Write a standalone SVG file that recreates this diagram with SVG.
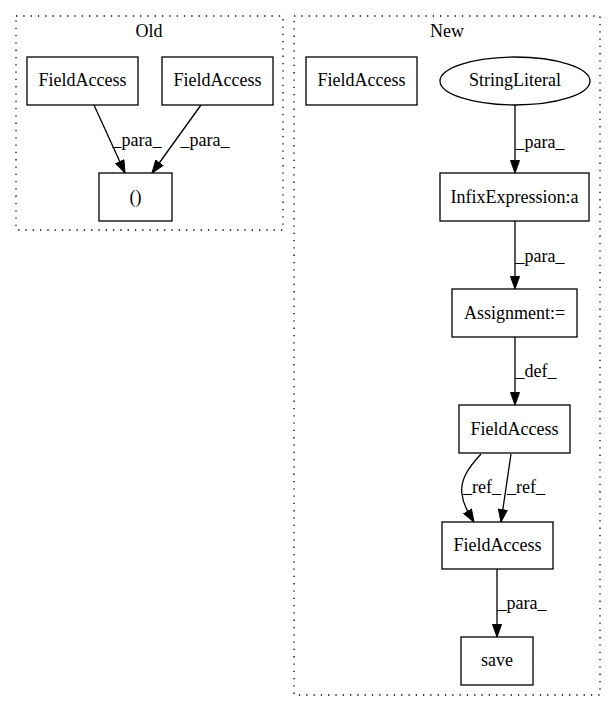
<svg xmlns="http://www.w3.org/2000/svg" width="616" height="712" viewBox="0 0 616 712">
<style>
text{font-family:"Liberation Serif","Times New Roman",serif;font-size:18px;fill:#000}
.n{fill:#fff;stroke:#000;stroke-width:1.3}
.c{fill:none;stroke:#000;stroke-width:1.3;stroke-dasharray:1.3,6}
.e{fill:none;stroke:#000;stroke-width:1.3;marker-end:url(#ah)}
</style>
<defs>
<marker id="ah" markerWidth="14" markerHeight="10" refX="13" refY="5" orient="auto" markerUnits="userSpaceOnUse">
<path d="M0.5,0.5 L13,5 L0.5,9.5 z" fill="#000" stroke="#000"/>
</marker>
</defs>
<rect width="616" height="712" fill="#fff"/>
<g id="cluster_old">
<rect class="c" x="16" y="16" width="267" height="214"/>
<text x="149" y="37" text-anchor="middle">Old</text>
</g>
<g id="cluster_new">
<rect class="c" x="294" y="16" width="306" height="679"/>
<text x="447" y="37" text-anchor="middle">New</text>
</g>
<g id="connectors">
<path class="e" d="M94,105 L125,173"/>
<text x="137" y="146" text-anchor="middle">_para_</text>
<path class="e" d="M201,105 L152,173"/>
<text x="205" y="146" text-anchor="middle">_para_</text>
<path class="e" d="M515,105 L515,173"/>
<text x="540" y="148" text-anchor="middle">_para_</text>
<path class="e" d="M515,221 L515,289"/>
<text x="540" y="262" text-anchor="middle">_para_</text>
<path class="e" d="M515,337 L515,405"/>
<text x="536" y="377" text-anchor="middle">_def_</text>
<path class="e" d="M481,454 C468,468 460,480 462,494 C463,504 468,512 474,522"/>
<text x="482" y="493" text-anchor="middle">_ref_</text>
<path class="e" d="M511,454 L501,522"/>
<text x="526" y="493" text-anchor="middle">_ref_</text>
<path class="e" d="M497,569 L497,637"/>
<text x="522" y="609" text-anchor="middle">_para_</text>
</g>
<g id="old_fa1">
<rect class="n" x="27" y="57" width="111" height="48"/>
<text x="82.5" y="86" text-anchor="middle">FieldAccess</text>
</g>
<g id="old_fa2">
<rect class="n" x="162" y="57" width="111" height="48"/>
<text x="217.5" y="86" text-anchor="middle">FieldAccess</text>
</g>
<g id="old_paren">
<rect class="n" x="99" y="173" width="73" height="48"/>
<text x="135.5" y="203" text-anchor="middle">()</text>
</g>
<g id="new_fa_lone">
<rect class="n" x="306" y="57" width="111" height="48"/>
<text x="361.5" y="86" text-anchor="middle">FieldAccess</text>
</g>
<g id="new_stringliteral">
<ellipse class="n" cx="515" cy="81" rx="75" ry="24"/>
<text x="515" y="86" text-anchor="middle">StringLiteral</text>
</g>
<g id="new_infix">
<rect class="n" x="440" y="173" width="149" height="48"/>
<text x="514.5" y="203" text-anchor="middle">InfixExpression:a</text>
</g>
<g id="new_assign">
<rect class="n" x="452" y="289" width="125" height="48"/>
<text x="514.5" y="319" text-anchor="middle">Assignment:=</text>
</g>
<g id="new_fa_def">
<rect class="n" x="459" y="405" width="111" height="48"/>
<text x="514.5" y="435" text-anchor="middle">FieldAccess</text>
</g>
<g id="new_fa_ref">
<rect class="n" x="442" y="522" width="111" height="47"/>
<text x="497.5" y="551" text-anchor="middle">FieldAccess</text>
</g>
<g id="new_save">
<rect class="n" x="461" y="637" width="72" height="48"/>
<text x="497" y="666" text-anchor="middle">save</text>
</g>
</svg>
